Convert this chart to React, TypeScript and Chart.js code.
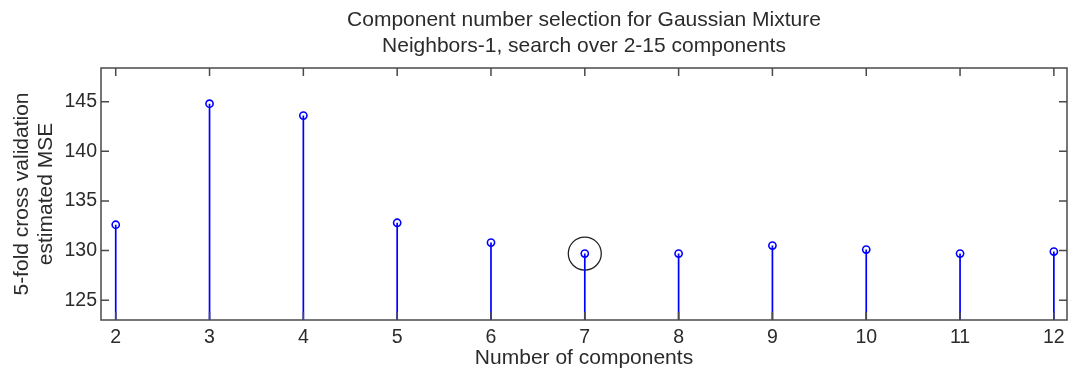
import React, { useEffect, useRef } from 'react';
import { Chart, registerables } from 'chart.js';

Chart.register(...registerables);

const components = [2, 3, 4, 5, 6, 7, 8, 9, 10, 11, 12];
const mse = [132.6, 144.8, 143.6, 132.8, 130.8, 129.7, 129.7, 130.5, 130.1, 129.7, 129.9];
const selectedComponent = 7;
const xTicks = [2, 3, 4, 5, 6, 7, 8, 9, 10, 11, 12];
const yTicks = [125, 130, 135, 140, 145];
const titleLines = ['Component number selection for Gaussian Mixture', 'Neighbors-1, search over 2-15 components'];
const yTitleLines = ['5-fold cross validation', 'estimated MSE'];
const xTitle = 'Number of components';

const X_MIN = 1.843;
const X_MAX = 12.14;
const Y_MIN = 123;
const Y_MAX = 148.4;

const FONT = '"Liberation Sans", Arial, sans-serif';
const TEXT = '#2b2b2b';
const AXIS = '#4a4a4a';
const BLUE = '#0000ff';

const framePlugin = {
  id: 'frame',
  afterDatasetsDraw(chart: any) {
    const { ctx, chartArea } = chart;
    const { left, right, top, bottom } = chartArea;
    const x = chart.scales.x;
    const y = chart.scales.y;
    ctx.save();
    ctx.strokeStyle = AXIS;
    ctx.lineWidth = 1.5;
    ctx.strokeRect(left, top, right - left, bottom - top);
    ctx.beginPath();
    const L = 8;
    xTicks.forEach((v) => {
      const px = x.getPixelForValue(v);
      ctx.moveTo(px, top);
      ctx.lineTo(px, top + L);
      ctx.moveTo(px, bottom);
      ctx.lineTo(px, bottom - L);
    });
    yTicks.forEach((v) => {
      const py = y.getPixelForValue(v);
      ctx.moveTo(left, py);
      ctx.lineTo(left + L, py);
      ctx.moveTo(right, py);
      ctx.lineTo(right - L, py);
    });
    ctx.stroke();
    ctx.restore();
  },
};

export default function App() {
  const ref = useRef<HTMLCanvasElement | null>(null);

  useEffect(() => {
    document.body.style.margin = '0';
    document.body.style.overflow = 'hidden';
    if (!ref.current) return;
    const stems: any[] = [];
    components.forEach((c, i) => {
      stems.push({ x: c, y: Y_MIN });
      stems.push({ x: c, y: mse[i] });
      stems.push({ x: c, y: null });
    });
    const points = components.map((c, i) => ({ x: c, y: mse[i] }));
    const selIdx = components.indexOf(selectedComponent);
    const highlight = [{ x: selectedComponent, y: mse[selIdx] }];

    const chart = new Chart(ref.current, {
      type: 'scatter',
      data: {
        datasets: [
          {
            data: stems,
            showLine: true,
            spanGaps: false,
            borderColor: BLUE,
            borderWidth: 1.7,
            pointRadius: 0,
          } as any,
          {
            data: points,
            pointRadius: 3.6,
            pointBorderWidth: 1.6,
            pointBorderColor: BLUE,
            pointBackgroundColor: 'rgba(0,0,0,0)',
          },
          {
            data: highlight,
            pointRadius: 16.5,
            pointBorderWidth: 1.3,
            pointBorderColor: '#222',
            pointBackgroundColor: 'rgba(0,0,0,0)',
          },
        ],
      },
      options: {
        responsive: false,
        animation: false,
        layout: { autoPadding: false, padding: { left: 0, right: 1, top: 0, bottom: 0 } },
        plugins: {
          legend: { display: false },
          tooltip: { enabled: false },
          title: {
            display: true,
            fullSize: false,
            text: titleLines,
            color: TEXT,
            font: { family: FONT, size: 21, weight: 'normal', lineHeight: 26 / 21 },
            padding: { top: 7, bottom: 9 },
          },
        },
        scales: {
          x: {
            type: 'linear',
            min: X_MIN,
            max: X_MAX,
            afterBuildTicks: (scale: any) => {
              scale.ticks = xTicks.map((v) => ({ value: v }));
            },
            afterFit: (scale: any) => {
              scale.height = 49;
              scale.paddingLeft = 0;
              scale.paddingRight = 0;
            },
            grid: { display: false, drawTicks: false },
            border: { display: false },
            ticks: {
              color: TEXT,
              font: { family: FONT, size: 19.5 },
              padding: 6,
              maxRotation: 0,
              autoSkip: false,
              callback: (v: any) => String(v),
            },
            title: {
              display: true,
              text: xTitle,
              color: TEXT,
              font: { family: FONT, size: 21, lineHeight: 1 },
              padding: { top: 0, bottom: 0 },
            },
          },
          y: {
            type: 'linear',
            min: Y_MIN,
            max: Y_MAX,
            afterBuildTicks: (scale: any) => {
              scale.ticks = yTicks.map((v) => ({ value: v }));
            },
            afterFit: (scale: any) => {
              scale.width = 101;
              scale.paddingTop = 0;
              scale.paddingBottom = 0;
            },
            grid: { display: false, drawTicks: false },
            border: { display: false },
            ticks: {
              color: TEXT,
              font: { family: FONT, size: 19.5 },
              padding: 4,
              autoSkip: false,
              callback: (v: any) => String(v),
            },
            title: {
              display: true,
              text: yTitleLines,
              color: TEXT,
              font: { family: FONT, size: 21, lineHeight: 1.11 },
              padding: { top: 11, bottom: 0 },
            },
          },
        },
      } as any,
      plugins: [framePlugin],
    });
    return () => chart.destroy();
  }, []);

  return (
    <div style={{ position: 'absolute', left: 0, top: 0, width: 1068, height: 369, overflow: 'hidden', background: '#fff' }}>
      <canvas ref={ref} width={1068} height={369} style={{ display: 'block' }} />
    </div>
  );
}
